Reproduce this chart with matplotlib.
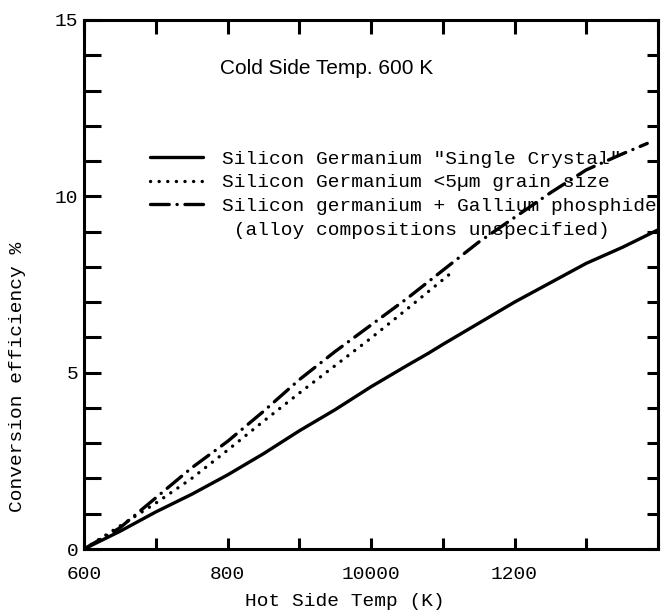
import matplotlib
matplotlib.use("Agg")
from matplotlib import pyplot as plt
from matplotlib.lines import Line2D

plt.rcParams['lines.scale_dashes'] = False
MONO = 'Liberation Mono'

# Single crystal SiGe
temp_sc = [600, 650, 700, 750, 800, 850, 900, 950, 1000, 1050, 1080, 1100,
           1150, 1200, 1250, 1300, 1350, 1400]
eff_sc = [0.0, 0.5, 1.05, 1.55, 2.1, 2.7, 3.35, 3.95, 4.6, 5.2, 5.55, 5.8,
          6.4, 7.0, 7.55, 8.1, 8.55, 9.05]

# SiGe < 5 um grain size
temp_fg = [600, 650, 700, 750, 800, 850, 900, 950, 1000, 1050, 1110]
eff_fg = [0.0, 0.65, 1.3, 2.0, 2.8, 3.62, 4.42, 5.2, 5.98, 6.8, 7.8]

# SiGe + GaP
temp_gap = [600, 650, 700, 750, 800, 850, 900, 950, 1000, 1050, 1100, 1150,
            1200, 1250, 1300, 1350, 1385]
eff_gap = [0.0, 0.6, 1.45, 2.3, 3.05, 3.9, 4.8, 5.6, 6.35, 7.1, 7.9, 8.7,
           9.4, 10.1, 10.75, 11.2, 11.5]

x_ticks = list(range(600, 1401, 100))
x_tick_labels = {600: '600', 800: '800', 1000: '10000', 1200: '1200'}
y_ticks = list(range(0, 16))
y_tick_labels = {0: '0', 5: '5', 10: '10', 15: '15'}

legend_labels = [
    'Silicon Germanium "Single Crystal"',
    'Silicon Germanium <5\u00b5m grain size',
    'Silicon germanium + Gallium phosphide',
    ' (alloy compositions unspecified)',
]

W, H = 661, 612
fig = plt.figure(figsize=(W / 100, H / 100), dpi=100)
ax = fig.add_axes([84 / W, 1 - 549 / H, (658 - 84) / W, (549 - 20) / H])

lw = 2.4
dotted = (0, (0.1, 6.1))
dashdot = (0, (13.5, 5.6, 0.1, 5.6))

l1, = ax.plot(temp_sc, eff_sc, color='black', lw=lw, solid_capstyle='round')
l2, = ax.plot(temp_fg, eff_fg, color='black', lw=lw, linestyle=dotted,
              dash_capstyle='round')
l3, = ax.plot(temp_gap, eff_gap, color='black', lw=lw, linestyle=dashdot,
              dash_capstyle='round')

ax.set_xlim(600, 1400)
ax.set_ylim(0, 15)
ax.set_xticks(x_ticks)
ax.set_xticklabels([x_tick_labels.get(t, '') for t in x_ticks], family=MONO)
ax.set_yticks(y_ticks)
ax.set_yticklabels([y_tick_labels.get(t, '') for t in y_ticks], family=MONO)
ax.tick_params(axis='x', direction='in', length=9, width=2.2, top=True,
               labelsize=14, pad=12)
ax.tick_params(axis='y', direction='in', length=10, width=2.2, right=True,
               labelsize=14, pad=4)
for spine in ax.spines.values():
    spine.set_linewidth(2.2)

# left ticks are drawn longer than the right ones in the original
for tick in ax.yaxis.get_major_ticks():
    tick.tick1line.set_markersize(12)
    tick.tick2line.set_markersize(8)
for tick in ax.xaxis.get_major_ticks():
    tick.tick1line.set_markersize(8)
    tick.tick2line.set_markersize(10)

# legend, last row is the continuation of the GaP label
blank = Line2D([], [], color='none')
ax.legend([l1, l2, l3, blank], legend_labels, loc='upper left',
          bbox_to_anchor=(150 / W, 1 - 150 / H), bbox_transform=fig.transFigure,
          frameon=False, borderpad=0, borderaxespad=0, handlelength=2.7,
          handletextpad=1.0, labelspacing=0.32,
          prop={'family': MONO, 'size': 14})

fig.text(220 / W, 1 - 68 / H, 'Cold Side Temp. 600 K', ha='left', va='center',
         family='Liberation Sans', fontsize=15)
fig.text(345 / W, 1 - 602 / H, 'Hot Side Temp (K)', ha='center', va='center',
         family=MONO, fontsize=14)
fig.text(18 / W, 1 - 377 / H, 'Conversion efficiency %', ha='center',
         va='center', rotation=90, family=MONO, fontsize=14)

fig.savefig('out.png', dpi=100)
